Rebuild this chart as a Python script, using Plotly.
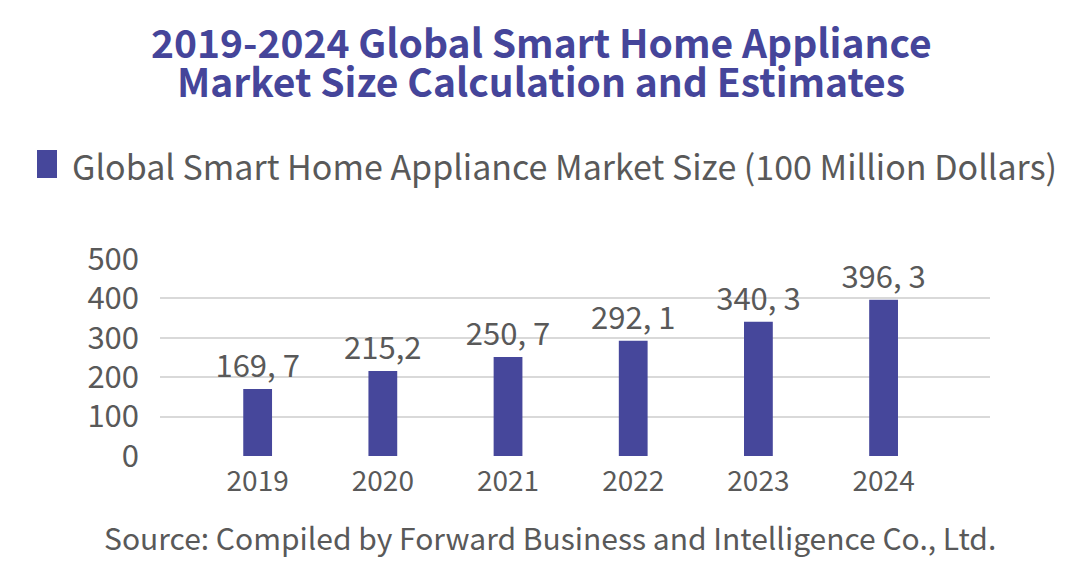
import plotly.graph_objects as go

years = ["2019", "2020", "2021", "2022", "2023", "2024"]
market_size = [169.7, 215.2, 250.7, 292.1, 340.3, 396.3]
value_labels = ["169, 7", "215,2", "250, 7", "292, 1", "340, 3", "396, 3"]
y_ticks = [0, 100, 200, 300, 400, 500]

series_name = "Global Smart Home Appliance Market Size (100 Million Dollars)"
title_lines = ["2019-2024 Global Smart Home Appliance", "Market Size Calculation and Estimates"]
source_text = "Source: Compiled by Forward Business and Intelligence Co., Ltd."

W, H = 1084, 574
L, R, T, B = 160, 94, 258, 118
PW, PH = W - L - R, H - T - B
FONT = "Noto Sans CJK SC"
BAR = "#46479b"
GREY = "#595959"


def px(x):
    return (x - L) / PW


def py(y):
    return (H - B - y) / PH


fig = go.Figure()
fig.add_trace(go.Bar(
    x=years, y=market_size, text=value_labels, textposition="outside",
    constraintext="none",
    textfont=dict(family=FONT, size=31, color=GREY), cliponaxis=False,
    marker=dict(color=BAR, line=dict(width=0)), width=0.23, name=series_name,
    showlegend=False,
))

fig.update_layout(
    width=W, height=H, margin=dict(l=L, r=R, t=T, b=B),
    paper_bgcolor="white", plot_bgcolor="white",
    font=dict(family=FONT, color=GREY),
    xaxis=dict(type="category", range=[-0.78, 5.85], showgrid=False, zeroline=False,
               showline=False, ticks="", tickfont=dict(size=28, color=GREY),
               ticklabelstandoff=6),
    yaxis=dict(range=[0, 502], tickvals=y_ticks, showgrid=True, gridcolor="#d9d9d9",
               gridwidth=1.5, zeroline=False, showline=False, ticks="",
               tickfont=dict(size=31, color=GREY), ticklabelstandoff=20),
    bargap=0.5,
)

for line, yc in zip(title_lines, [41, 80]):
    fig.add_annotation(text=line, xref="paper", yref="paper",
                       x=px(541), y=py(yc), xanchor="center", yanchor="middle",
                       showarrow=False,
                       font=dict(family=FONT, size=39, color="#45459a", weight="bold"))

fig.add_shape(type="rect", xref="paper", yref="paper",
              x0=px(37), x1=px(57), y0=py(178), y1=py(150),
              fillcolor=BAR, line=dict(width=0))
fig.add_annotation(text=series_name, xref="paper", yref="paper",
                   x=px(70), y=py(165), xanchor="left", yanchor="middle",
                   showarrow=False, font=dict(family=FONT, size=34, color=GREY))
fig.add_annotation(text=source_text, xref="paper", yref="paper",
                   x=px(550), y=py(537), xanchor="center", yanchor="middle",
                   showarrow=False, font=dict(family=FONT, size=30, color=GREY))

fig.write_html("out.html")
